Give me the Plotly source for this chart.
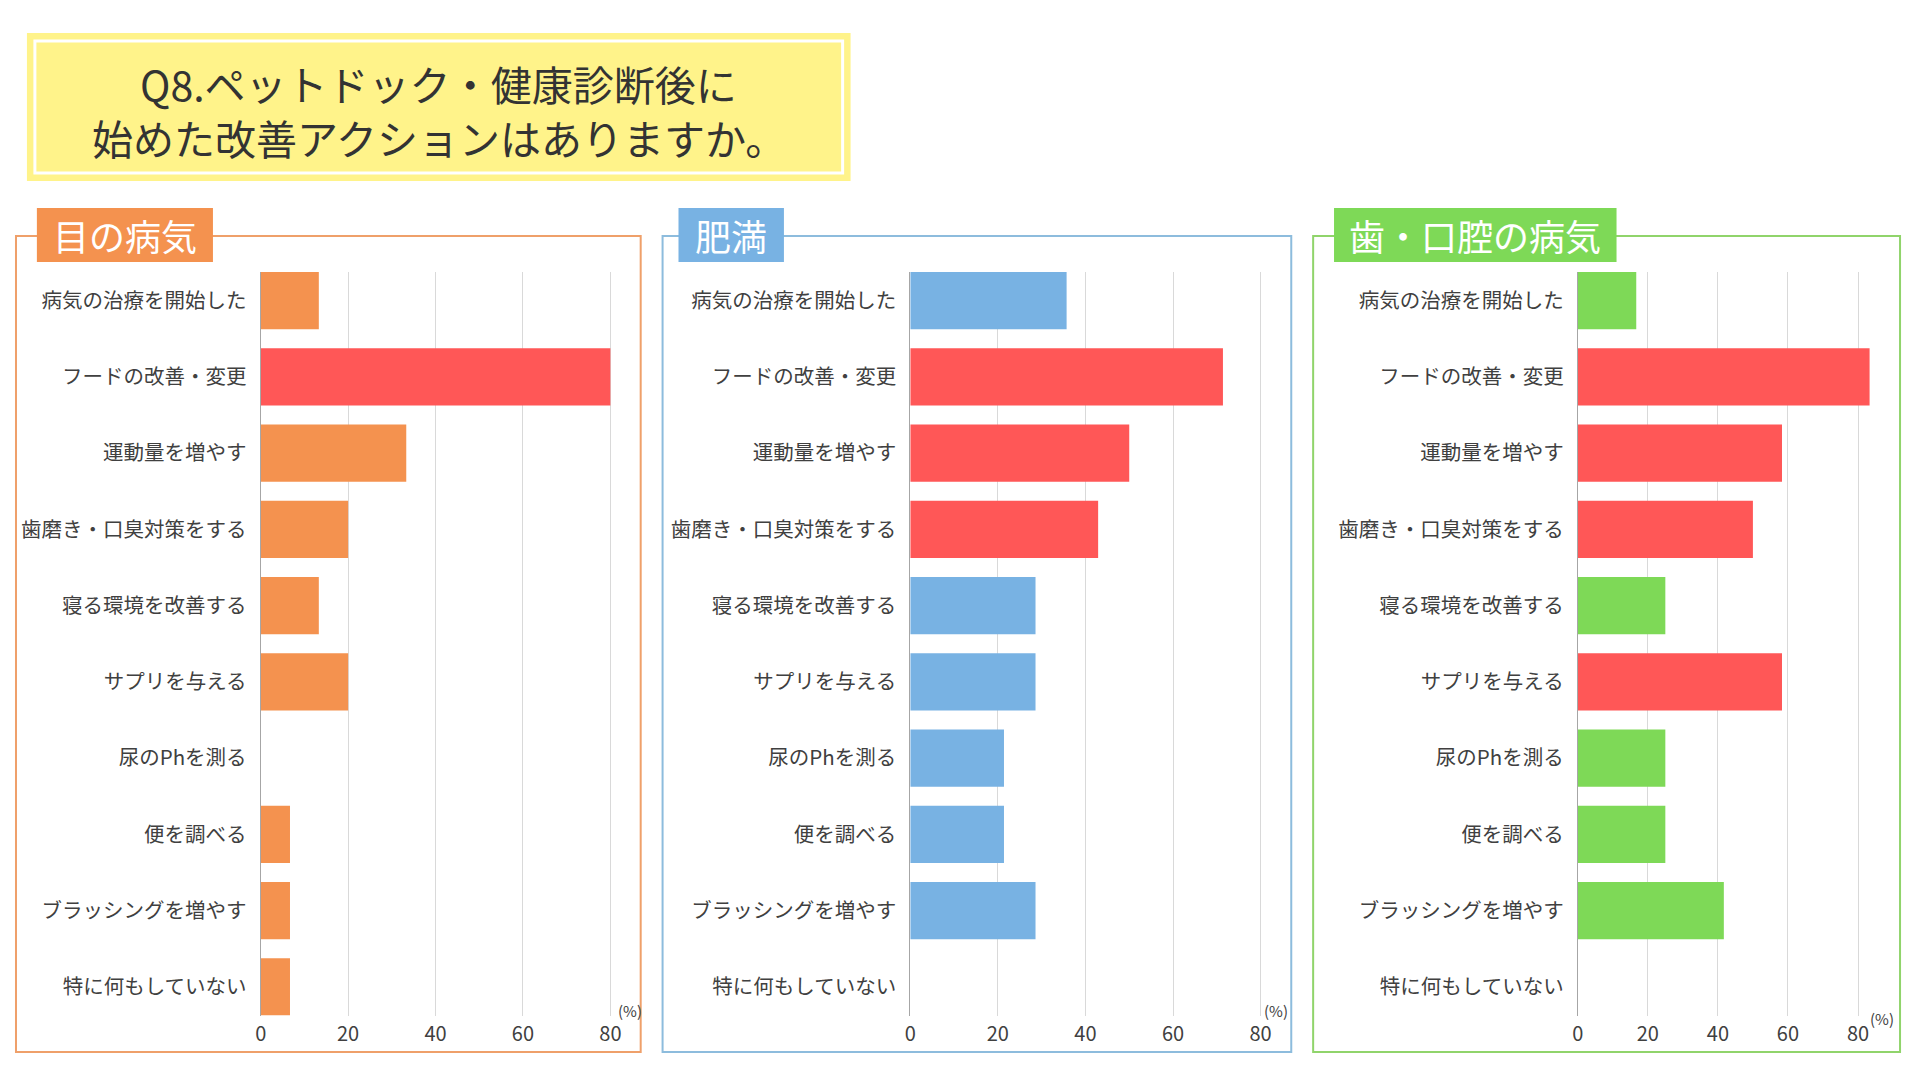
import plotly.graph_objects as go

# data
categories = [
    "病気の治療を開始した",
    "フードの改善・変更",
    "運動量を増やす",
    "歯磨き・口臭対策をする",
    "寝る環境を改善する",
    "サプリを与える",
    "尿のPhを測る",
    "便を調べる",
    "ブラッシングを増やす",
    "特に何もしていない",
]
panel_names = ["目の病気", "肥満", "歯・口腔の病気"]
eye_values = [13.3, 80, 33.3, 20, 13.3, 20, 0, 6.7, 6.7, 6.7]
obesity_values = [35.7, 71.4, 50, 42.9, 28.6, 28.6, 21.4, 21.4, 28.6, 0]
dental_values = [16.7, 83.3, 58.3, 50, 25, 58.3, 25, 25, 41.7, 0]
# categories shown in red in each panel
eye_top = ["フードの改善・変更"]
obesity_top = ["フードの改善・変更", "運動量を増やす", "歯磨き・口臭対策をする"]
dental_top = ["フードの改善・変更", "運動量を増やす", "歯磨き・口臭対策をする", "サプリを与える"]
x_ticks = [0, 20, 40, 60, 80]

title_lines = ["Q8.ペットドック・健康診断後に", "始めた改善アクションはありますか。"]

# the page body adds an 8px margin, so the figure is 8px smaller and all
# positions below (screen pixels) are shifted by OFF
OFF = 8
W, H = 1920 - 2 * OFF, 1080 - 2 * OFF
FONT = "Noto Sans CJK JP"
RED = "#FF5757"


def px(x):
    return (x - OFF) / W


def py(y):
    return 1 - (y - OFF) / H


panels = [
    # base colour, border colour, panel box, tab box, plot x0, plot x1, axis max
    dict(values=eye_values, top=eye_top, color="#F4924F", border="#EFA06A",
         box=(10, 236, 638, 1052), tab=(31, 208, 208, 262),
         px0=256, px1=615, xmax=81.7, pct=(627, 1010)),
    dict(values=obesity_values, top=obesity_top, color="#78B2E3", border="#8DBCDD",
         box=(660, 236, 1292, 1052), tab=(676, 208, 782, 262),
         px0=909, px1=1270, xmax=82.0, pct=(1277, 1010)),
    dict(values=dental_values, top=dental_top, color="#7ED957", border="#90D46B",
         box=(1314, 236, 1904, 1052), tab=(1335, 208, 1619, 262),
         px0=1580, px1=1885, xmax=86.6, pct=(1886, 1018)),
]

plot_top, plot_bottom = 272, 1015.5

fig = go.Figure()
shapes = []
annotations = []

# title box
shapes.append(dict(type="rect", xref="paper", yref="paper",
                   x0=px(21), x1=px(849), y0=py(181), y1=py(33),
                   fillcolor="#FFF38A", line=dict(width=0), layer="below"))
shapes.append(dict(type="rect", xref="paper", yref="paper",
                   x0=px(29), x1=px(841), y0=py(173), y1=py(41),
                   fillcolor="rgba(0,0,0,0)", line=dict(color="white", width=3),
                   layer="below"))
for line, y in zip(title_lines, [83, 137]):
    annotations.append(dict(text=line, x=px(435), y=py(y),
                            xref="paper", yref="paper", showarrow=False,
                            xanchor="center", yanchor="middle",
                            font=dict(family=FONT, size=41, color="#333333")))

for i, p in enumerate(panels):
    n = "" if i == 0 else str(i + 1)
    colors = [RED if c in p["top"] else p["color"] for c in categories]
    fig.add_trace(go.Bar(
        x=p["values"], y=categories, orientation="h",
        marker=dict(color=colors, line=dict(width=0)),
        width=0.75, xaxis="x" + n, yaxis="y" + n,
        hoverinfo="x+y", showlegend=False,
    ))
    fig.update_layout({
        "xaxis" + n: dict(
            domain=[px(p["px0"]), px(p["px1"])], range=[0, p["xmax"]],
            tickvals=x_ticks, showgrid=True, gridcolor="#D9D9D9", gridwidth=1,
            zeroline=False, showline=False, anchor="y" + n,
            ticklabelstandoff=4,
            tickfont=dict(family=FONT, size=20, color="#404040"),
            fixedrange=True,
        ),
        "yaxis" + n: dict(
            domain=[py(plot_bottom), py(plot_top)],
            type="category", categoryorder="array", categoryarray=categories,
            range=[9.375, -0.375], showgrid=False, zeroline=False,
            showline=True, linecolor="#A6A6A6", linewidth=1,
            anchor="x" + n, ticklabelstandoff=9,
            tickfont=dict(family=FONT, size=20.5, color="#404040"),
            fixedrange=True,
        ),
    })

    bx0, by0, bx1, by1 = p["box"]
    shapes.append(dict(type="rect", xref="paper", yref="paper",
                       x0=px(bx0), x1=px(bx1), y0=py(by1), y1=py(by0),
                       line=dict(color=p["border"], width=2),
                       fillcolor="rgba(0,0,0,0)", layer="below"))
    tx0, ty0, tx1, ty1 = p["tab"]
    shapes.append(dict(type="rect", xref="paper", yref="paper",
                       x0=px(tx0), x1=px(tx1), y0=py(ty1), y1=py(ty0),
                       line=dict(width=0), fillcolor=p["color"], layer="above"))
    annotations.append(dict(text=panel_names[i], x=px((tx0 + tx1) / 2),
                            y=py((ty0 + ty1) / 2), xref="paper", yref="paper",
                            showarrow=False, xanchor="center", yanchor="middle",
                            font=dict(family=FONT, size=36, color="white")))
    annotations.append(dict(text="(%)", x=px(p["pct"][0]), y=py(p["pct"][1]),
                            xref="paper", yref="paper", showarrow=False,
                            xanchor="center", yanchor="middle",
                            font=dict(family=FONT, size=15, color="#404040")))

fig.update_layout(
    width=W, height=H,
    margin=dict(l=0, r=0, t=0, b=0),
    paper_bgcolor="white", plot_bgcolor="white",
    shapes=shapes, annotations=annotations,
    bargap=0.25,
    font=dict(family=FONT),
)

fig.write_html("out.html")
